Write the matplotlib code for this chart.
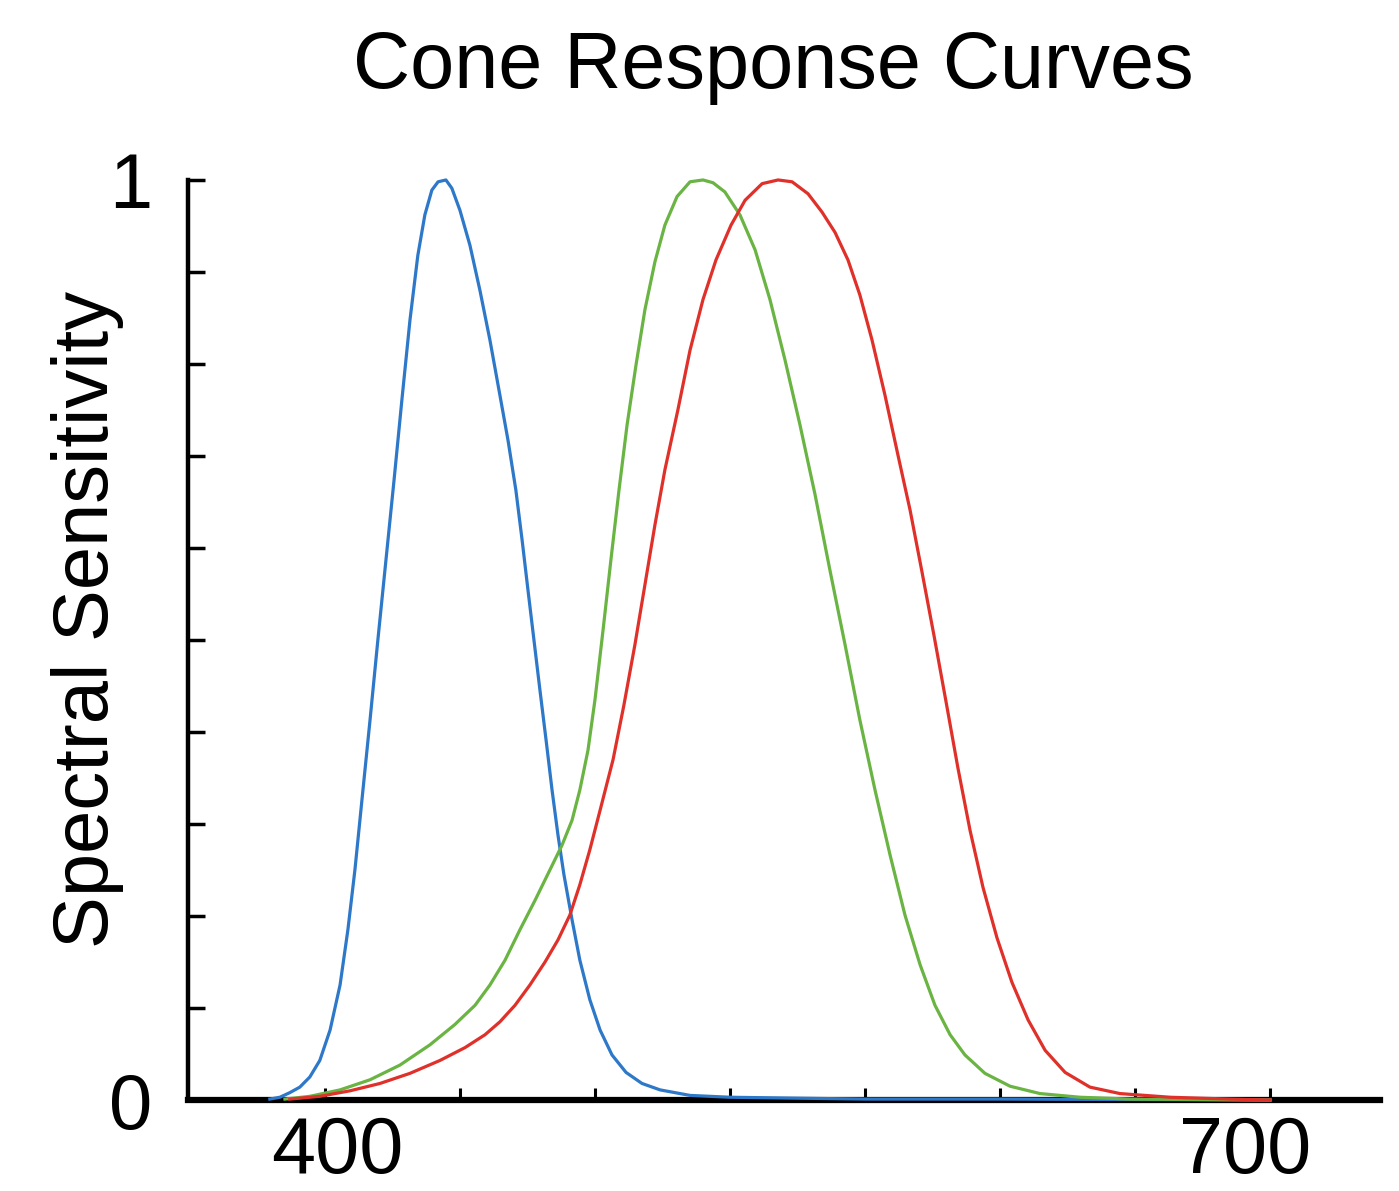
import matplotlib.pyplot as plt
import numpy as np

plt.rcParams['font.family'] = ['Liberation Sans', 'DejaVu Sans']

# wavelength (nm) / normalised sensitivity
s_wl = [379.6, 383.3, 387.0, 390.7, 394.4, 398.1, 401.9, 405.6, 408.5, 411.1,
        413.7, 416.7, 419.6, 422.6, 425.6, 428.5, 431.5, 434.4, 437.0, 439.6,
        441.9, 444.8, 447.0, 450.0, 453.7, 457.4, 461.1, 464.8, 467.8, 470.7,
        473.0, 475.2, 477.4, 479.6, 481.9, 484.1, 486.3, 488.5, 491.5, 494.4,
        498.1, 501.9, 506.3, 511.5, 517.4, 524.1, 535.2, 550, 600, 650, 700, 750]
s_val = [0.001, 0.003, 0.008, 0.014, 0.025, 0.043, 0.076, 0.125, 0.185, 0.25,
         0.326, 0.413, 0.5, 0.587, 0.674, 0.761, 0.848, 0.918, 0.962, 0.989,
         0.998, 1.0, 0.991, 0.967, 0.929, 0.88, 0.826, 0.766, 0.717, 0.663,
         0.609, 0.554, 0.5, 0.446, 0.391, 0.337, 0.288, 0.245, 0.196, 0.152,
         0.109, 0.076, 0.049, 0.03, 0.018, 0.011, 0.005, 0.003, 0.001, 0.001,
         0.0005, 0.0]

m_wl = [385.2, 394.4, 405.6, 416.7, 427.8, 438.9, 448.1, 455.6, 461.1, 466.7,
        472.2, 477.8, 483.3, 487.8, 491.5, 494.4, 497.4, 500.0, 503.0, 505.9,
        508.9, 511.9, 515.2, 518.5, 522.2, 525.9, 530.4, 535.2, 540.0, 543.7,
        548.1, 553.7, 559.3, 564.8, 570.4, 575.9, 581.5, 587.0, 592.6, 598.1,
        603.7, 609.3, 614.8, 620.4, 625.9, 631.5, 637.0, 644.4, 653.7, 664.8,
        679.6, 698.1, 750]
m_val = [0.001, 0.004, 0.011, 0.022, 0.038, 0.06, 0.082, 0.103, 0.125, 0.152,
         0.185, 0.217, 0.25, 0.277, 0.304, 0.337, 0.38, 0.435, 0.511, 0.587,
         0.663, 0.734, 0.799, 0.859, 0.911, 0.951, 0.982, 0.998, 1.0, 0.997,
         0.987, 0.962, 0.924, 0.87, 0.804, 0.734, 0.658, 0.576, 0.495, 0.413,
         0.337, 0.266, 0.201, 0.147, 0.103, 0.071, 0.049, 0.029, 0.015, 0.007,
         0.003, 0.001, 0.0]

l_wl = [387.0, 398.1, 409.3, 420.4, 431.5, 442.6, 451.9, 459.3, 464.8, 470.4,
        475.9, 481.5, 486.3, 490.7, 494.4, 498.1, 501.9, 506.7, 510.7, 514.8,
        518.5, 522.2, 525.9, 530.7, 535.2, 540.0, 544.8, 550.4, 555.6, 561.9,
        567.8, 573.0, 578.9, 584.1, 588.9, 593.7, 598.1, 602.6, 607.4, 612.2,
        616.7, 621.1, 625.6, 630.0, 634.4, 638.9, 643.7, 648.9, 654.4, 660.4,
        666.7, 674.1, 683.3, 694.4, 713.0, 735.2, 750]
l_val = [0.001, 0.004, 0.010, 0.018, 0.029, 0.043, 0.057, 0.071, 0.085, 0.103,
         0.125, 0.15, 0.174, 0.201, 0.234, 0.272, 0.315, 0.37, 0.429, 0.495,
         0.56, 0.625, 0.685, 0.75, 0.815, 0.87, 0.913, 0.951, 0.978, 0.996,
         1.0, 0.998, 0.985, 0.965, 0.943, 0.913, 0.875, 0.826, 0.766, 0.701,
         0.641, 0.574, 0.504, 0.433, 0.361, 0.293, 0.231, 0.176, 0.128, 0.087,
         0.054, 0.03, 0.014, 0.007, 0.003, 0.001, 0.0]

tick_wl = np.arange(400, 751, 50)
label_pos = [404.5, 740.7]
label_txt = ["400", "700"]

fig = plt.figure(figsize=(13.99, 11.91), dpi=100)
ax = fig.add_axes([0.1344, 0.0764, 0.852, 0.7725])

ax.plot(s_wl, s_val, color="#2d78c8", lw=2.3, zorder=3, clip_on=False)
ax.plot(m_wl, m_val, color="#6ab443", lw=2.3, zorder=3, clip_on=False)
ax.plot(l_wl, l_val, color="#e0302a", lw=2.3, zorder=3, clip_on=False)

ax.set_xlim(349.3, 790.7)
ax.set_ylim(0, 1)

for side in ["top", "right"]:
    ax.spines[side].set_visible(False)
ax.spines["bottom"].set_linewidth(4.5)
ax.spines["left"].set_linewidth(3.2)

# inward ticks every 50 nm, labels where the picture puts them
ax.set_xticks(tick_wl, minor=True)
ax.set_xticks(label_pos, labels=label_txt)
ax.tick_params(axis="x", which="major", length=0, pad=11, labelsize=57)
ax.tick_params(axis="x", which="minor", direction="in", length=9, width=2.2)

ax.set_yticks(np.arange(0, 1.01, 0.1), minor=True)
ax.set_yticks([0, 1], labels=["0", "1"])
ax.tick_params(axis="y", which="major", direction="in", length=12, width=2.5,
               pad=26, labelsize=56)
ax.tick_params(axis="y", which="minor", direction="in", length=12, width=2.5)

ax.set_ylabel("Spectral Sensitivity", fontsize=56)
ax.yaxis.set_label_coords(-0.054, 0.522)
fig.text(0.5525, 0.926, "Cone Response Curves", ha="center", va="baseline",
         fontsize=57)

fig.savefig("out.png", dpi=100)
